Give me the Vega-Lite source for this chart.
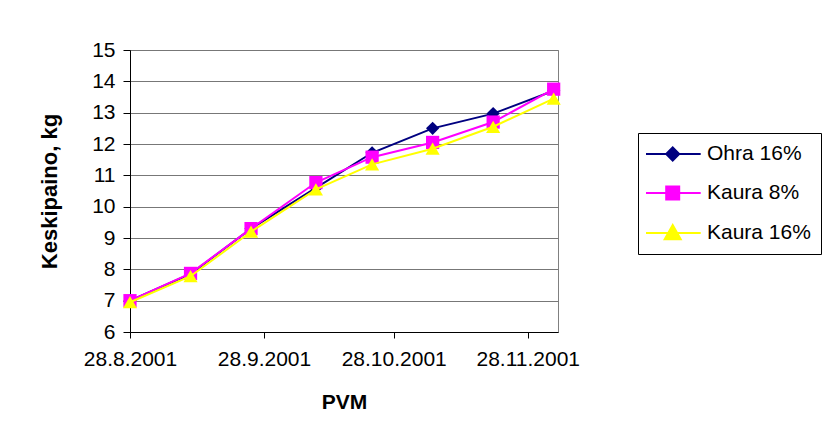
{
  "$schema": "https://vega.github.io/schema/vega-lite/v6.json",
  "width": 428,
  "height": 282,
  "autosize": {"type": "none"},
  "padding": {"left": 130, "top": 50, "right": 265, "bottom": 113},
  "background": "white",
  "config": {
    "font": "Liberation Sans",
    "view": {"stroke": "#808080", "strokeWidth": 1}
  },
  "data": {
    "values": [
      {"date": "28.8.2001", "series": "Ohra 16%", "value": 7.0},
      {"date": "11.9.2001", "series": "Ohra 16%", "value": 7.85},
      {"date": "25.9.2001", "series": "Ohra 16%", "value": 9.3},
      {"date": "10.10.2001", "series": "Ohra 16%", "value": 10.6},
      {"date": "23.10.2001", "series": "Ohra 16%", "value": 11.72},
      {"date": "6.11.2001", "series": "Ohra 16%", "value": 12.5},
      {"date": "20.11.2001", "series": "Ohra 16%", "value": 12.97},
      {"date": "4.12.2001", "series": "Ohra 16%", "value": 13.7},
      {"date": "28.8.2001", "series": "Kaura 8%", "value": 7.0},
      {"date": "11.9.2001", "series": "Kaura 8%", "value": 7.87},
      {"date": "25.9.2001", "series": "Kaura 8%", "value": 9.3},
      {"date": "10.10.2001", "series": "Kaura 8%", "value": 10.77},
      {"date": "23.10.2001", "series": "Kaura 8%", "value": 11.58},
      {"date": "6.11.2001", "series": "Kaura 8%", "value": 12.05},
      {"date": "20.11.2001", "series": "Kaura 8%", "value": 12.7},
      {"date": "4.12.2001", "series": "Kaura 8%", "value": 13.75},
      {"date": "28.8.2001", "series": "Kaura 16%", "value": 6.95},
      {"date": "11.9.2001", "series": "Kaura 16%", "value": 7.78},
      {"date": "25.9.2001", "series": "Kaura 16%", "value": 9.2},
      {"date": "10.10.2001", "series": "Kaura 16%", "value": 10.55},
      {"date": "23.10.2001", "series": "Kaura 16%", "value": 11.35},
      {"date": "6.11.2001", "series": "Kaura 16%", "value": 11.85},
      {"date": "20.11.2001", "series": "Kaura 16%", "value": 12.55},
      {"date": "4.12.2001", "series": "Kaura 16%", "value": 13.45}
    ],
    "format": {"parse": {"date": "date:'%d.%m.%Y'"}}
  },
  "encoding": {
    "x": {
      "field": "date",
      "type": "temporal",
      "scale": {"domain": [{"year": 2001, "month": 8, "date": 28}, {"year": 2001, "month": 12, "date": 5}], "nice": false},
      "axis": {
        "values": [
          {"year": 2001, "month": 8, "date": 28},
          {"year": 2001, "month": 9, "date": 28},
          {"year": 2001, "month": 10, "date": 28},
          {"year": 2001, "month": 11, "date": 28}
        ],
        "format": "%-d.%-m.%Y",
        "grid": false,
        "labelFontSize": 21,
        "labelColor": "black",
        "labelFlush": false,
        "labelOverlap": false,
        "labelBound": false,
        "labelPadding": 10,
        "tickSize": 6,
        "tickColor": "black",
        "domainColor": "black",
        "title": "PVM",
        "titleFontSize": 21,
        "titleFontWeight": "bold",
        "titleColor": "black",
        "titlePadding": 22
      }
    },
    "y": {
      "field": "value",
      "type": "quantitative",
      "scale": {"domain": [6, 15], "nice": false, "zero": false},
      "axis": {
        "values": [6, 7, 8, 9, 10, 11, 12, 13, 14, 15],
        "grid": true,
        "gridColor": "#777777",
        "gridOpacity": 1,
        "labelFontSize": 21,
        "labelColor": "black",
        "labelFlush": false,
        "labelPadding": 8,
        "tickSize": 7,
        "tickColor": "black",
        "domainColor": "black",
        "title": "Keskipaino, kg",
        "titleFontSize": 22,
        "titleFontWeight": "bold",
        "titleColor": "black",
        "titlePadding": 30
      }
    }
  },
  "layer": [
    {
      "transform": [{"filter": {"field": "series", "equal": "Ohra 16%"}}],
      "mark": {"type": "line", "color": "#000080", "strokeWidth": 2,
        "point": {"shape": "diamond", "filled": true, "size": 175, "color": "#000080", "opacity": 1}}
    },
    {
      "transform": [{"filter": {"field": "series", "equal": "Kaura 8%"}}],
      "mark": {"type": "line", "color": "#FF00FF", "strokeWidth": 2,
        "point": {"shape": "square", "filled": true, "size": 175, "color": "#FF00FF", "opacity": 1}}
    },
    {
      "transform": [{"filter": {"field": "series", "equal": "Kaura 16%"}}],
      "mark": {"type": "line", "color": "#FFFF00", "strokeWidth": 2,
        "point": {"shape": "triangle-up", "filled": true, "size": 200, "color": "#FFFF00", "opacity": 1}}
    },
    {
      "mark": {"type": "point", "filled": true, "opacity": 0},
      "encoding": {
        "color": {
          "field": "series",
          "type": "nominal",
          "scale": {"domain": ["Ohra 16%", "Kaura 8%", "Kaura 16%"], "range": ["#000080", "#FF00FF", "#FFFF00"]},
          "legend": {
            "title": null,
            "orient": "none",
            "legendX": 508,
            "legendY": 83,
            "strokeColor": "black",
            "fillColor": "white",
            "padding": 10,
            "labelFontSize": 21,
            "labelColor": "black",
            "labelOffset": 37,
            "rowPadding": 17,
            "symbolSize": 400,
            "symbolStrokeWidth": 2,
            "symbolOpacity": 1,
            "encode": {
              "symbols": {
                "update": {
                  "stroke": {"scale": "color", "field": "value"},
                  "fill": {"scale": "color", "field": "value"},
                  "strokeWidth": {"value": 2},
                  "opacity": {"value": 1}
                }
              }
            }
          }
        },
        "shape": {
          "field": "series",
          "type": "nominal",
          "scale": {
            "domain": ["Ohra 16%", "Kaura 8%", "Kaura 16%"],
            "range": [
              "M-1.3,0H4.17M0.72,0L1.37,-0.65L2.02,0L1.37,0.65Z",
              "M-1.3,0H4.17M0.72,-0.65H2.02V0.65H0.72Z",
              "M-1.3,0H4.17M0.57,0.62L1.37,-0.8L2.17,0.62Z"
            ]
          },
          "legend": {"title": null}
        }
      }
    }
  ]
}
